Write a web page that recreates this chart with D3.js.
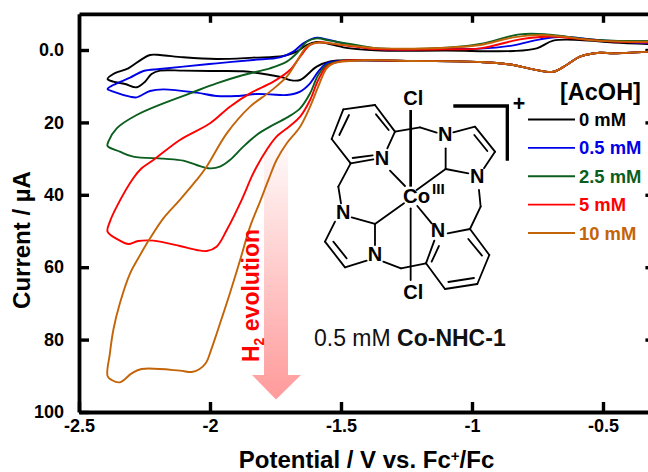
<!DOCTYPE html>
<html><head><meta charset="utf-8">
<script src="https://cdn.jsdelivr.net/npm/d3@7"></script>
<style>html,body{margin:0;padding:0;background:#fff}svg{display:block}text{font-family:"Liberation Sans",Arial,sans-serif}</style>
</head><body><div id="chart"></div>
<script>
// Tick values
const xTicks=[-2.5,-2,-1.5,-1,-0.5];
const xTickLabels=["-2.5","-2","-1.5","-1","-0.5"];
const yTicks=[0,20,40,60,80,100];
const yTickLabels=["0.0","20","40","60","80","100"];
// Legend
const concentrations=["0 mM","0.5 mM","2.5 mM","5 mM","10 mM"];
const colors=["#000000","#0000e6","#0b5e1e","#ff0000","#c46408"];
// Forward-scan start, shared by all traces (they overlap here)
const sharedV=[-0.328,-0.461,-0.511,-0.588,-0.639,-0.690,-0.766,-0.842,-0.969,-1.224,-1.415];
const sharedI=[0.46,0.92,0.74,1.84,4.14,6.0,5.34,4.14,3.31,3.04,2.85];
// 0 mM
const v0=[-1.542,-1.593,-1.656,-1.695,-1.720,-1.771,-1.873,-2.0,-2.102,-2.191,-2.223,-2.248,-2.280,-2.324,-2.369,-2.391,-2.369,-2.312,-2.261,-2.229,-2.191,-2.102,-1.975,-1.835,-1.720,-1.669,-1.631,-1.593,-1.555,-1.491,-1.427,-1.351,-1.097,-0.842,-0.753,-0.690,-0.588,-0.461,-0.328];
const i0=[3.13,4.6,8.29,8.29,7.64,6.9,5.89,5.8,5.71,5.71,6.63,8.75,10.3,9.39,8.75,8.01,6.63,5.06,2.58,1.38,1.38,2.02,2.49,2.12,1.66,0.46,-1.38,-2.21,-1.84,-0.74,-0.18,0.18,0.18,0.28,-0.46,-2.58,-2.76,-2.03,-1.66];
// 0.5 mM
const v1=[-1.5,-1.555,-1.587,-1.618,-1.656,-1.707,-1.771,-1.822,-1.898,-1.975,-2.051,-2.178,-2.229,-2.280,-2.305,-2.369,-2.391,-2.369,-2.305,-2.254,-2.191,-2.102,-1.975,-1.835,-1.733,-1.682,-1.644,-1.593,-1.555,-1.491,-1.427,-1.351,-1.097,-0.969,-0.842,-0.740,-0.652,-0.524,-0.328];
const i1=[3.0,3.68,5.99,9.21,11.5,12.43,12.25,12.15,12.7,12.7,11.79,10.87,11.33,13.07,12.89,11.5,10.77,9.67,7.64,5.8,5.25,4.6,3.68,2.76,2.03,0.46,-1.84,-3.41,-2.95,-1.84,-0.92,-0.18,-0.37,-0.37,-1.29,-2.95,-3.68,-2.76,-1.84];
// 2.5 mM
const v2=[-1.5,-1.555,-1.587,-1.618,-1.656,-1.707,-1.771,-1.822,-1.873,-1.924,-1.962,-2.0,-2.051,-2.102,-2.178,-2.293,-2.344,-2.391,-2.388,-2.356,-2.280,-2.178,-2.076,-1.975,-1.873,-1.771,-1.707,-1.669,-1.631,-1.593,-1.542,-1.427,-1.351,-1.097,-0.969,-0.817,-0.715,-0.588,-0.461,-0.328];
const i2=[3.0,4.14,6.9,11.97,16.11,18.69,21.18,23.48,26.7,30.39,32.23,32.69,31.77,30.57,30.02,29.46,28.08,26.52,25.32,21.63,17.96,14.73,11.97,9.21,6.9,5.06,3.22,0.92,-2.3,-3.22,-2.58,-1.2,-0.46,-0.64,-1.66,-4.33,-4.33,-3.22,-2.58,-2.49];
// 5 mM
const v3=[-1.5,-1.555,-1.587,-1.618,-1.656,-1.695,-1.746,-1.784,-1.822,-1.841,-1.879,-1.936,-1.975,-2.013,-2.051,-2.115,-2.216,-2.274,-2.312,-2.344,-2.391,-2.382,-2.356,-2.293,-2.261,-2.216,-2.115,-2.0,-1.924,-1.847,-1.758,-1.695,-1.656,-1.618,-1.580,-1.517,-1.427,-1.351,-1.097,-0.969,-0.817,-0.715,-0.588,-0.461,-0.328];
const i3=[3.1,4.6,8.29,13.81,18.42,20.99,23.94,27.62,32.23,35.0,41.4,49.72,54.33,55.52,55.25,54.14,52.67,52.76,53.59,52.67,50.18,47.42,43.28,35.45,32.68,30.39,24.86,20.26,15.65,11.97,8.75,5.52,1.84,-1.38,-2.12,-1.56,-0.74,-0.18,-0.18,-0.46,-2.95,-3.68,-3.04,-2.3,-2.03];
// 10 mM
const v4=[-1.529,-1.555,-1.587,-1.618,-1.656,-1.707,-1.746,-1.777,-1.809,-1.847,-1.885,-1.924,-1.949,-1.975,-1.998,-2.015,-2.041,-2.07,-2.115,-2.261,-2.299,-2.344,-2.375,-2.391,-2.382,-2.369,-2.344,-2.305,-2.274,-2.229,-2.178,-2.115,-2.051,-2.013,-1.936,-1.847,-1.771,-1.707,-1.669,-1.631,-1.593,-1.542,-1.427,-1.351,-1.097,-0.969,-0.842,-0.740,-0.652,-0.524,-0.328];
const i4=[3.68,5.06,10.13,15.65,21.18,25.78,30.39,35.9,41.9,48.8,58.0,67.2,72.75,78.45,83.3,86.4,88.2,88.95,88.58,88.12,89.32,91.8,91.16,90.06,83.8,77.35,69.98,61.7,57.55,52.03,46.5,41.4,35.9,32.23,23.02,15.65,11.5,7.37,3.22,-0.92,-2.03,-1.84,-0.92,-0.46,-0.64,-1.38,-3.5,-4.14,-3.68,-2.58,-2.3];

const traces=[[v0,i0],[v1,i1],[v2,i2],[v3,i3],[v4,i4]];

const W=648,H=472;
const svg=d3.select("#chart").append("svg").attr("width",W).attr("height",H).attr("viewBox",`0 0 ${W} ${H}`);
const x=d3.scaleLinear().domain([-2.5,-0.3]).range([79,655.4]);
const y=d3.scaleLinear().domain([-10,100]).range([13.8,412]);

// Arrow with gradient
const defs=svg.append("defs");
const grad=defs.append("linearGradient").attr("id","arrowGrad").attr("x1",0).attr("x2",0).attr("y1",0).attr("y2",1);
grad.append("stop").attr("offset",0).attr("stop-color","#ffffff");
grad.append("stop").attr("offset",1).attr("stop-color","#ff9a9a");
svg.append("path").attr("d","M264,133H288V375H301L276,399.5L252,375H264Z").attr("fill","url(#arrowGrad)");

// Axes
function styleAxis(g,w){
  g.selectAll(".domain").attr("stroke","#000").attr("stroke-width",w);
  g.selectAll(".tick line").attr("stroke","#000").attr("stroke-width",3.4);
  g.selectAll("text").attr("font-family",'"Liberation Sans",Arial,sans-serif').attr("font-weight","bold").attr("font-size",18).attr("fill","#000");
}
const ax=svg.append("g");
const bottom=ax.append("g").attr("transform",`translate(0,${y(100)})`)
  .call(d3.axisBottom(x).tickValues(xTicks).tickSizeInner(-10).tickSizeOuter(0).tickPadding(7).tickFormat((d,i)=>xTickLabels[i]));
styleAxis(bottom,3.8);
const top_=ax.append("g").attr("transform",`translate(0,${y(-10)})`)
  .call(d3.axisTop(x).tickValues(xTicks.slice(1)).tickSizeInner(-9).tickSizeOuter(0).tickFormat(""));
styleAxis(top_,3.8);
const left=ax.append("g").attr("transform",`translate(${x(-2.5)},0)`)
  .call(d3.axisLeft(y).tickValues(yTicks).tickSizeInner(-10).tickSizeOuter(0).tickPadding(15).tickFormat((d,i)=>yTickLabels[i]));
styleAxis(left,3.8);
const right=ax.append("g").attr("transform",`translate(${x(-0.3)},0)`)
  .call(d3.axisRight(y).tickValues(yTicks.slice(0,5)).tickSizeInner(-10).tickSizeOuter(0).tickFormat(""));
styleAxis(right,3.8);

// Traces
const line=d3.line().x(d=>x(d[0])).y(d=>y(d[1])).curve(d3.curveCatmullRom.alpha(0.5));
traces.forEach(([v,c],k)=>{
  const vs=sharedV.concat(v), is=sharedI.concat(c);
  const pts=vs.map((d,j)=>[d,is[j]]);
  svg.append("path").attr("d",line(pts)).attr("fill","none").attr("stroke",colors[k]).attr("stroke-width",1.9).attr("stroke-linejoin","round");
});

// Axis titles
svg.append("text").attr("transform","translate(30,240) rotate(-90)").attr("text-anchor","middle").attr("font-weight","bold").attr("font-size",24).text("Current / µA");
const xt=svg.append("text").attr("x",366.5).attr("y",468).attr("text-anchor","middle").attr("font-weight","bold").attr("font-size",24);
xt.append("tspan").text("Potential / V vs. Fc");
xt.append("tspan").attr("font-size",15).attr("dy",-7).text("+");
xt.append("tspan").attr("dy",7).text("/Fc");

// Legend
svg.append("text").attr("x",560).attr("y",100).attr("font-weight","bold").attr("font-size",23.5).text("[AcOH]");
const legendY=d3.scaleLinear().domain([0,4]).range([119.5,233]);
concentrations.forEach((c,k)=>{
  svg.append("line").attr("x1",528).attr("x2",575).attr("y1",legendY(k)).attr("y2",legendY(k)).attr("stroke",colors[k]).attr("stroke-width",1.9);
  svg.append("text").attr("x",579).attr("y",legendY(k)+6.5).attr("font-weight","bold").attr("font-size",18.4).attr("fill",colors[k]).text(c);
});

// H2 evolution label
const h2=svg.append("text").attr("transform","translate(259,362) rotate(-90)").attr("font-weight","bold").attr("font-size",23).attr("fill","#ff0000");
h2.append("tspan").text("H");
h2.append("tspan").attr("font-size",14).attr("dy",5).text("2");
h2.append("tspan").attr("dy",-5).text(" evolution");

// Concentration label
const lab=svg.append("text").attr("x",314).attr("y",346).attr("font-size",23).attr("fill","#111");
lab.append("tspan").text("0.5 mM ");
lab.append("tspan").attr("font-weight","bold").text("Co-NHC-1");

// Molecule diagram
const bonds=[[95,177,130,88],[118,165,147,105],[130,88,225,75],[225,75,285,155],[228,103,266,150],[285,155,262,205],[220,238,152,250],[158,234,218,226],[152,250,95,177],
[285,155,360,142],[360,142,410,158],[152,250,115,320],[115,320,123,370],
[460,157,525,140],[525,140,585,215],[523,165,562,213],[585,215,552,265],[505,280,437,267],[437,267,437,205],
[537,330,542,380],[542,380,510,447],[510,447,443,460],
[510,447,568,525],[505,477,546,527],[568,525,532,612],[532,612,435,627],[445,606,522,594],[435,627,378,550],[378,550,403,482],[395,545,417,498],
[378,550,303,565],[303,565,250,545],
[105,425,75,485],[75,485,135,562],[100,485,140,535],[135,562,200,542],[225,495,225,432],[225,432,155,412],
[332,385,332,600],[270,272,315,318],[437,267,350,330],[225,432,312,370],[352,378,395,430]];
const mol=svg.append("g").attr("transform","translate(300,80) scale(0.3333)");
mol.selectAll("line.b").data(bonds).join("line").attr("x1",d=>d[0]).attr("y1",d=>d[1]).attr("x2",d=>d[2]).attr("y2",d=>d[3]).attr("stroke","#000").attr("stroke-width",5.5).attr("stroke-linecap","round");
mol.append("line").attr("x1",332).attr("y1",90).attr("x2",332).attr("y2",320).attr("stroke","#000").attr("stroke-width",8);
mol.append("path").attr("d","M460,78H622V242").attr("fill","none").attr("stroke","#000").attr("stroke-width",10);
const atoms=[["Cl",340,75],["N",246,255],["N",436,183],["N",532,310],["N",130,417],["N",225,543],["N",414,471],["Cl",340,657],["Co",350,368]];
mol.selectAll("text.a").data(atoms).join("text").attr("x",d=>d[1]).attr("y",d=>d[2]).attr("text-anchor","middle").attr("font-weight","bold").attr("font-size",d=>d[0]==="Co"?61:60).text(d=>d[0]);
mol.append("text").attr("x",415).attr("y",342).attr("text-anchor","middle").attr("font-weight","bold").attr("font-size",46).text("III");
mol.append("text").attr("x",657).attr("y",94).attr("text-anchor","middle").attr("font-weight","bold").attr("font-size",64).text("+");
</script></body></html>
